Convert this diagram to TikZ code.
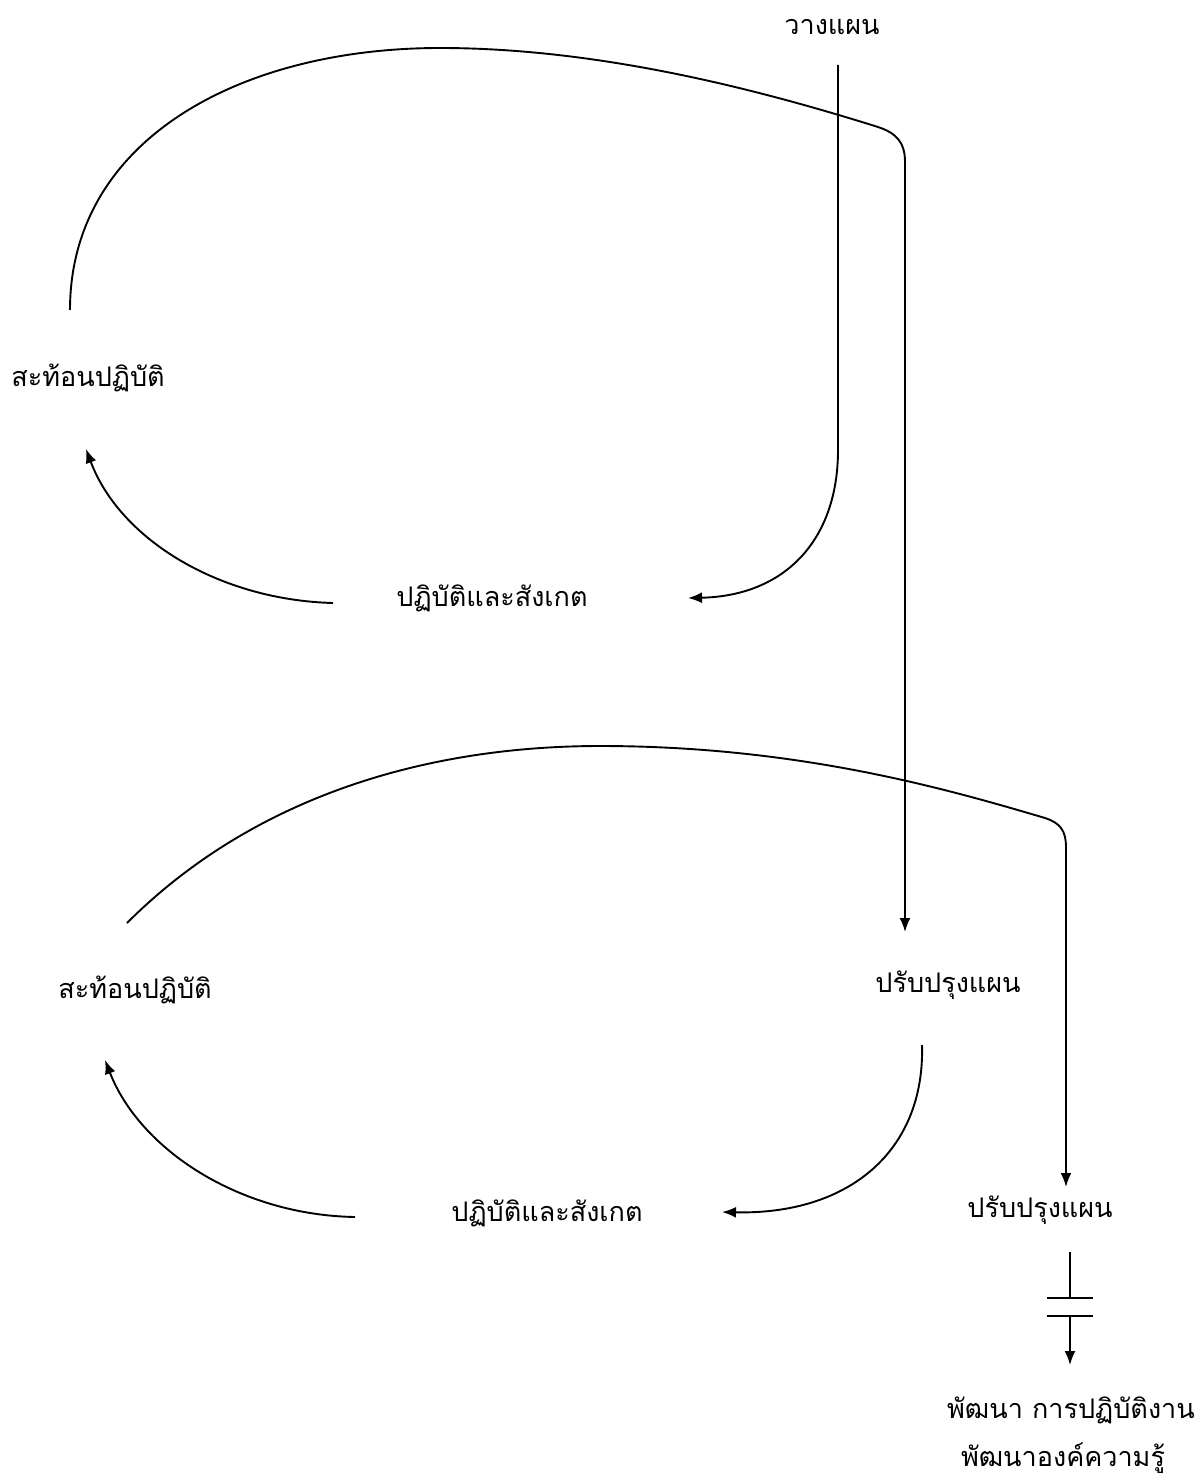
\documentclass[tikz,border=0pt]{standalone}
\usepackage{fontspec}
\newfontfamily\thaifont[Script=Thai]{Loma}
\usetikzlibrary{arrows.meta}
\begin{document}
\begin{tikzpicture}[x=1pt,y=-1pt,
  lbl/.style={font=\thaifont\fontsize{27}{32}\selectfont, inner sep=0pt, anchor=center},
  conn/.style={line width=1.9pt},
  arr/.style={conn, -{Latex[length=14pt,width=11pt]}}]
\useasboundingbox (0,0) rectangle (1198,1482);
% labels
\node[lbl] (plan) at (832,27) {วางแผน};
\node[lbl] (refl1) at (88,378) {สะท้อนปฏิบัติ};
\node[lbl] (act1) at (492,598) {ปฏิบัติและสังเกต};
\node[lbl] (rev1) at (948,985) {ปรับปรุงแผน};
\node[lbl] (refl2) at (135,990) {สะท้อนปฏิบัติ};
\node[lbl] (act2) at (547,1213) {ปฏิบัติและสังเกต};
\node[lbl] (rev2) at (1040,1210) {ปรับปรุงแผน};
\node[lbl] (dev1) at (1071,1410) {พัฒนา การปฏิบัติงาน};
\node[lbl] (dev2) at (1063,1458) {พัฒนาองค์ความรู้};
% connector end points
\coordinate (p1) at (838,65);
\coordinate (a1) at (688,598);
\coordinate (s1) at (333,603);
\coordinate (r1) at (86,449);
\coordinate (l1) at (70,310);
\coordinate (v1) at (905,932);
\coordinate (q1) at (922,1045);
\coordinate (a2) at (722,1212);
\coordinate (s2) at (355,1217);
\coordinate (r2) at (105,1060);
\coordinate (l2) at (127,923);
\coordinate (v2) at (1066,1187);
\coordinate (b1) at (1070,1252);
\coordinate (b2) at (1070,1298);
\coordinate (b3) at (1070,1316);
\coordinate (b4) at (1070,1365);
% cycle 1
\draw[arr] (p1) -- (838,450) .. controls (838,540) and (785,596) .. (a1);
\draw[arr] (s1) .. controls (220,600) and (120,540) .. (r1);
\draw[arr] (l1) .. controls (70,140) and (240,48) .. (440,48)
  .. controls (600,48) and (760,90) .. (878,127)
  .. controls (896,133) and (905,142) .. (905,162) -- (v1);
% cycle 2
\draw[arr] (q1) .. controls (925,1150) and (850,1215) .. (a2);
\draw[arr] (s2) .. controls (240,1215) and (140,1150) .. (r2);
\draw[arr] (l2) .. controls (250,800) and (420,746) .. (600,746)
  .. controls (800,746) and (950,790) .. (1045,818)
  .. controls (1060,823) and (1066,830) .. (1066,848) -- (v2);
% final step
\draw[conn] (b1) -- (b2);
\draw[conn] (1047,1298) -- (1093,1298);
\draw[conn] (1047,1316) -- (1093,1316);
\draw[arr] (b3) -- (b4);
\end{tikzpicture}
\end{document}
